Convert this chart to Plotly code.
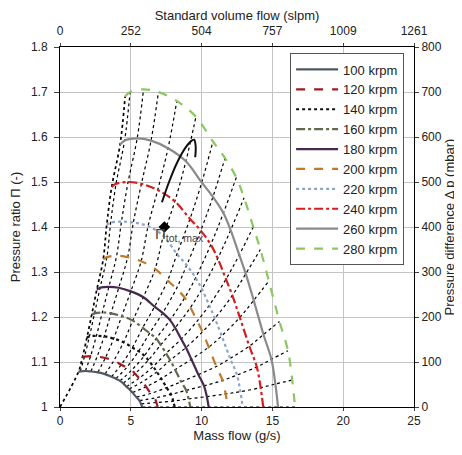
import plotly.graph_objects as go

# speed lines (krpm) and their colours / dash styles
speeds = [100, 120, 140, 160, 180, 200, 220, 240, 260, 280]
colors = ["#4f5863", "#9e1b24", "#111111", "#5f6b4c", "#47294d",
          "#c07a2c", "#8da6c6", "#d41e1e", "#8a8a8a", "#8cc862"]
dashes = ["solid", "dash", "dot", "dashdot", "solid",
          "dash", "dot", "dashdot", "solid", "dash"]

# mass flow (g/s) of the measured points on each speed line, surge -> choke
flow = {
    100: [1.30, 1.43, 1.79, 2.18, 2.67, 3.18, 3.63, 3.95, 4.24, 4.45, 4.69, 4.88, 5.11, 5.39, 5.61, 5.72, 5.80],
    120: [1.58, 1.73, 2.16, 2.62, 3.20, 3.80, 4.33, 4.71, 5.06, 5.30, 5.59, 5.82, 6.08, 6.41, 6.68, 6.81, 6.90],
    140: [1.90, 2.08, 2.57, 3.12, 3.79, 4.49, 5.11, 5.55, 5.96, 6.24, 6.58, 6.84, 7.15, 7.53, 7.84, 8.00, 8.10],
    160: [2.24, 2.44, 2.99, 3.60, 4.36, 5.14, 5.84, 6.33, 6.79, 7.11, 7.49, 7.78, 8.13, 8.56, 8.91, 9.08, 9.20],
    180: [2.60, 2.83, 3.45, 4.15, 5.00, 5.89, 6.68, 7.25, 7.77, 8.13, 8.56, 8.89, 9.28, 9.77, 10.17, 10.37, 10.50],
    200: [3.05, 3.31, 4.00, 4.78, 5.73, 6.72, 7.60, 8.22, 8.81, 9.21, 9.69, 10.06, 10.50, 11.04, 11.48, 11.70, 11.85],
    220: [3.30, 3.58, 4.34, 5.18, 6.22, 7.30, 8.26, 8.95, 9.58, 10.02, 10.54, 10.94, 11.42, 12.02, 12.50, 12.74, 12.90],
    240: [3.65, 3.96, 4.81, 5.75, 6.90, 8.11, 9.18, 9.94, 10.65, 11.14, 11.72, 12.17, 12.70, 13.37, 13.90, 14.17, 14.35],
    260: [4.24, 4.56, 5.45, 6.43, 7.63, 8.89, 10.01, 10.80, 11.54, 12.05, 12.66, 13.12, 13.68, 14.37, 14.93, 15.21, 15.40],
    280: [4.60, 4.95, 5.90, 6.95, 8.25, 9.60, 10.80, 11.65, 12.45, 13.00, 13.65, 14.15, 14.75, 15.50, 16.10, 16.40, 16.60],
}

# pressure ratio (-) of the same points
ratio = {
    100: [1.078, 1.079, 1.080, 1.079, 1.077, 1.073, 1.067, 1.063, 1.058, 1.053, 1.045, 1.040, 1.032, 1.022, 1.014, 1.007, 1.0],
    120: [1.110, 1.112, 1.113, 1.112, 1.109, 1.103, 1.094, 1.088, 1.082, 1.074, 1.064, 1.056, 1.045, 1.030, 1.020, 1.010, 1.0],
    140: [1.154, 1.157, 1.158, 1.157, 1.152, 1.144, 1.132, 1.124, 1.114, 1.104, 1.090, 1.078, 1.063, 1.043, 1.028, 1.013, 1.0],
    160: [1.205, 1.208, 1.210, 1.208, 1.202, 1.192, 1.176, 1.164, 1.152, 1.138, 1.119, 1.104, 1.083, 1.056, 1.037, 1.018, 1.0],
    180: [1.261, 1.265, 1.267, 1.265, 1.257, 1.244, 1.223, 1.209, 1.193, 1.176, 1.151, 1.132, 1.106, 1.072, 1.047, 1.023, 1.0],
    200: [1.328, 1.333, 1.336, 1.333, 1.324, 1.307, 1.281, 1.263, 1.243, 1.221, 1.191, 1.167, 1.133, 1.090, 1.059, 1.029, 1.0],
    220: [1.405, 1.410, 1.412, 1.410, 1.402, 1.380, 1.340, 1.315, 1.287, 1.262, 1.226, 1.197, 1.158, 1.108, 1.071, 1.034, 1.0],
    240: [1.489, 1.496, 1.500, 1.496, 1.482, 1.457, 1.418, 1.392, 1.361, 1.330, 1.284, 1.248, 1.199, 1.135, 1.089, 1.043, 1.0],
    260: [1.583, 1.592, 1.597, 1.592, 1.575, 1.546, 1.499, 1.467, 1.431, 1.393, 1.338, 1.296, 1.237, 1.161, 1.106, 1.051, 1.0],
    280: [1.690, 1.700, 1.706, 1.700, 1.680, 1.645, 1.590, 1.553, 1.510, 1.465, 1.400, 1.350, 1.280, 1.190, 1.125, 1.060, 1.0],
}

# surge line starts at the origin of the map
surge_start_x = [0.0]
surge_start_y = [1.0]

# max pressure ratio curve and its point
ridge_x = [7.2, 7.7, 8.3, 8.9, 9.3, 9.47, 9.58, 9.55]
ridge_y = [1.455, 1.50, 1.545, 1.578, 1.592, 1.594, 1.58, 1.555]
pimax_x = [7.37]
pimax_y = [1.40]

top_ticks = [0, 252.2, 504.4, 756.6, 1008.8, 1261]
top_labels = ["0", "252", "504", "757", "1009", "1261"]

fig = go.Figure()

# throttle lines: same point index across all speed lines
n_pts = len(flow[100])
for k in range(n_pts):
    xs = [flow[s][k] for s in speeds]
    ys = [ratio[s][k] for s in speeds]
    if k == 0:
        xs = surge_start_x + xs
        ys = surge_start_y + ys
    fig.add_trace(go.Scatter(x=xs, y=ys, mode="lines", showlegend=False, hoverinfo="skip",
                             line=dict(color="black", width=1.7 if k == 0 else 1.2, dash="dot", shape="spline")))

for s, c, d in zip(speeds, colors, dashes):
    fig.add_trace(go.Scatter(x=flow[s], y=ratio[s], mode="lines", name=f"{s} krpm",
                             line=dict(color=c, width=2.2, dash=d, shape="spline")))

fig.add_trace(go.Scatter(x=ridge_x, y=ridge_y, mode="lines", showlegend=False, hoverinfo="skip",
                         line=dict(color="#111111", width=2, shape="spline")))
fig.add_trace(go.Scatter(x=pimax_x, y=pimax_y, mode="markers", showlegend=False, hoverinfo="skip",
                         marker=dict(symbol="diamond", size=9, color="black")))

# secondary axes (volume flow on top, pressure difference on the right)
fig.add_trace(go.Scatter(x=[0], y=[0], xaxis="x2", yaxis="y2", mode="markers",
                         marker=dict(opacity=0), showlegend=False, hoverinfo="skip"))

fig.add_annotation(x=6.6, y=1.383, text="Π<sub>tot, max</sub>", showarrow=False,
                   xanchor="left", font=dict(size=15, color="#444"))

# page body adds ~8px around the figure, so the figure is a bit smaller than the window
axis_font = dict(size=12, color="#222")
common = dict(showline=True, linecolor="black", linewidth=1, zeroline=False,
              tickfont=axis_font, automargin=False)
fig.update_layout(
    width=454, height=447,
    margin=dict(l=52, r=48, t=39, b=48),
    paper_bgcolor="white", plot_bgcolor="white",
    font=dict(family="Liberation Sans, Arial, sans-serif", size=12, color="#222"),
    xaxis=dict(range=[0, 25], dtick=5, showgrid=True, gridcolor="#c4c4c4", gridwidth=1,
               ticks="outside", ticklen=3, **common,
               title=dict(text="Mass flow (g/s)", font=dict(size=13), standoff=2)),
    xaxis2=dict(range=[0, 1261], overlaying="x", side="top", anchor="y",
                tickvals=top_ticks, ticktext=top_labels, showgrid=False,
                ticks="outside", ticklen=3, ticklabelstandoff=3, **common,
                title=dict(text="Standard volume flow (slpm)", font=dict(size=13), standoff=6)),
    yaxis=dict(range=[1, 1.8], dtick=0.1, showgrid=True, gridcolor="#c4c4c4", gridwidth=1,
               ticks="outside", ticklen=5, ticklabelstandoff=4, **common,
               title=dict(text="Pressure ratio Π (-)", font=dict(size=13), standoff=8)),
    yaxis2=dict(range=[0, 800], dtick=100, overlaying="y", side="right", anchor="x",
                showgrid=False, ticks="outside", ticklen=4, **common,
                title=dict(text="Pressure difference Δ p (mbar)", font=dict(size=13), standoff=2)),
    legend=dict(x=0.65, y=0.982, xanchor="left", yanchor="top", bgcolor="white",
                bordercolor="#555", borderwidth=1, font=dict(size=13), tracegroupgap=0,
                itemwidth=42),
    showlegend=True,
)

fig.write_html("out.html")
